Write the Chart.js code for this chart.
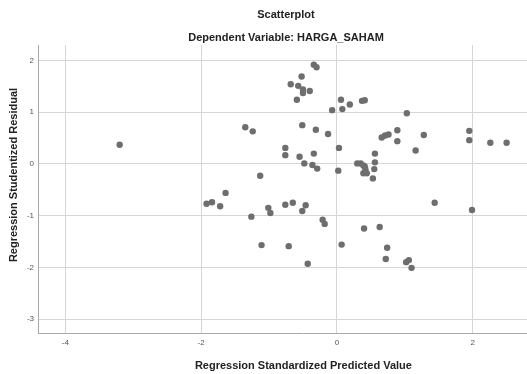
<!DOCTYPE html>
<html>
<head>
<meta charset="utf-8">
<script src="https://cdn.jsdelivr.net/npm/chart.js@4/dist/chart.umd.min.js"></script>
<style>
  html, body { margin: 0; padding: 0; background: #ffffff; overflow: hidden; width: 527px; height: 374px; }
  #c { display: block; }
</style>
</head>
<body>
<canvas id="c" width="572" height="374"></canvas>
<script>
// Regression Standardized Predicted Value (x) and Studentized Residual (y)
const predicted = [
  -3.20, -1.35, -1.24, -1.13, -1.92, -1.84, -1.72, -1.64, -1.26, -1.11,
  -1.01, -0.98, -0.34, -0.30, -0.52, -0.68, -0.57, -0.50, -0.50, -0.40,
  -0.59, 0.06, 0.19, 0.37, 0.41, -0.07, 0.08, 1.03, -0.51, -0.31,
  -0.13, 0.89, 0.89, 0.66, 0.71, 0.76, 1.28, 1.16, 1.95, 1.95,
  2.26, 2.50, -0.76, -0.76, -0.55, -0.34, -0.48, -0.36, -0.29, 0.03,
  0.02, 0.30, 0.35, 0.39, 0.41, 0.42, 0.39, 0.44, 0.53, 0.55,
  0.56, 0.56, -0.76, -0.65, -0.46, -0.51, -0.21, -0.18, -0.71, -0.43,
  0.07, 0.40, 0.63, 0.74, 0.72, 1.02, 1.06, 1.10, 1.44, 1.99
];
const residual = [
  0.37, 0.71, 0.63, -0.23, -0.77, -0.74, -0.82, -0.56, -1.02, -1.57,
  -0.85, -0.95, 1.92, 1.87, 1.69, 1.54, 1.51, 1.44, 1.37, 1.41,
  1.24, 1.24, 1.15, 1.22, 1.23, 1.04, 1.06, 0.98, 0.75, 0.66,
  0.58, 0.65, 0.44, 0.51, 0.55, 0.57, 0.56, 0.26, 0.64, 0.46,
  0.41, 0.41, 0.31, 0.17, 0.14, 0.20, 0.01, -0.02, -0.09, 0.31,
  -0.13, 0.01, 0.01, -0.03, -0.05, -0.10, -0.18, -0.18, -0.28, -0.10,
  0.20, 0.03, -0.79, -0.75, -0.80, -0.91, -1.08, -1.16, -1.59, -1.93,
  -1.56, -1.25, -1.22, -1.62, -1.84, -1.90, -1.86, -2.01, -0.75, -0.89
];
const xTicks = [-4, -2, 0, 2];
const yTicks = [-3, -2, -1, 0, 1, 2];
const chartTitle = 'Scatterplot';
const chartSubtitle = 'Dependent Variable: HARGA_SAHAM';
const xTitle = 'Regression Standardized Predicted Value';
const yTitle = 'Regression Studentized Residual';

const points = predicted.map((x, i) => ({ x: x, y: residual[i] }));

Chart.defaults.font.family = '"Liberation Sans", Arial, sans-serif';

const yTitlePlugin = {
  id: 'yTitle',
  afterDraw(chart) {
    const ctx = chart.ctx;
    ctx.save();
    ctx.translate(14, 175);
    ctx.rotate(-Math.PI / 2);
    ctx.font = 'bold 11px "Liberation Sans", Arial, sans-serif';
    ctx.fillStyle = '#222222';
    ctx.textAlign = 'center';
    ctx.textBaseline = 'middle';
    ctx.fillText(yTitle, 0, 0);
    ctx.restore();
  }
};

new Chart(document.getElementById('c'), {
  type: 'scatter',
  data: {
    datasets: [{
      label: 'Residuals',
      data: points,
      backgroundColor: '#6e6e6e',
      borderWidth: 0,
      pointRadius: 3.2,
      pointHoverRadius: 3.2
    }]
  },
  options: {
    responsive: false,
    animation: false,
    devicePixelRatio: 1,
    layout: { padding: 0 },
    plugins: {
      legend: { display: false },
      tooltip: { enabled: false },
      title: {
        display: true,
        text: chartTitle,
        color: '#222222',
        font: { size: 11, weight: 'bold' },
        padding: { top: 8, bottom: 6.5 }
      },
      subtitle: {
        display: true,
        text: chartSubtitle,
        color: '#222222',
        font: { size: 11, weight: 'bold' },
        padding: { top: 3.3, bottom: 0.8 }
      }
    },
    scales: {
      x: {
        type: 'linear',
        min: -4.403,
        max: 3.416,
        afterBuildTicks(scale) { scale.ticks = xTicks.map(v => ({ value: v })); },
        afterFit(scale) { scale.height = 41; },
        grid: { color: '#d6d6d6', lineWidth: 1, drawTicks: false },
        border: { color: '#a9a9a9', width: 1 },
        ticks: { color: '#555555', font: { size: 8 }, padding: 5, maxRotation: 0 },
        title: {
          display: true,
          text: xTitle,
          color: '#222222',
          font: { size: 11, weight: 'bold' },
          padding: { top: 0, bottom: 1.4 }
        }
      },
      y: {
        type: 'linear',
        min: -3.27,
        max: 2.3,
        afterBuildTicks(scale) { scale.ticks = yTicks.map(v => ({ value: v })); },
        afterFit(scale) { scale.width = 38; },
        grid: { color: '#d6d6d6', lineWidth: 1, drawTicks: false },
        border: { color: '#a9a9a9', width: 1 },
        ticks: { color: '#555555', font: { size: 8 }, padding: 4 }
      }
    }
  },
  plugins: [yTitlePlugin]
});
</script>
</body>
</html>
